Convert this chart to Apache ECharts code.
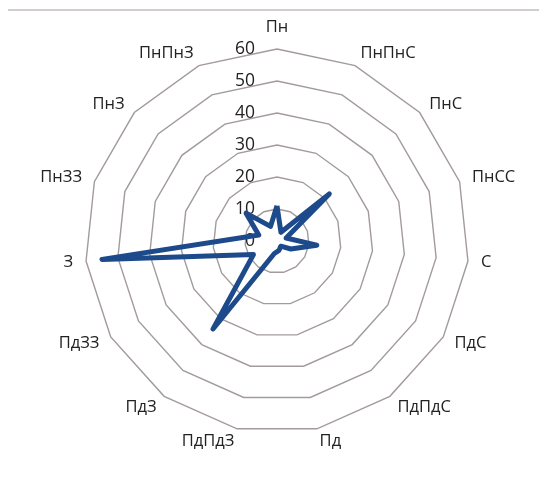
<!DOCTYPE html>
<html>
<head>
<meta charset="utf-8">
<script src="https://cdn.jsdelivr.net/npm/echarts@6/dist/echarts.min.js"></script>
<style>
html,body{margin:0;padding:0;background:#fff;}
#c{width:539px;height:501px;}
</style>
</head>
<body>
<div id="c"></div>
<script>
// Directions in clockwise order starting from the top
const categories = ['Пн','ПнПнС','ПнС','ПнСС','С','ПдС','ПдПдС','Пд','ПдПдЗ','ПдЗ','ПдЗЗ','З','ПнЗЗ','ПнЗ','ПнПнЗ'];
const values = [11, 3, 22, 3, 12.5, 5, 2, 3, 4, 34, 8.5, 55, 6, 13, 5];
const axisMax = 60;
const axisSplits = 6;

// ECharts radar runs counter-clockwise, so reverse all but the first
const order = [0].concat(categories.map((_, i) => i).slice(1).reverse());

const chart = echarts.init(document.getElementById('c'), null, {renderer: 'canvas'});
chart.setOption({
  animation: false,
  backgroundColor: '#ffffff',
  graphic: [{
    type: 'line',
    shape: {x1: 8, y1: 10, x2: 539, y2: 10},
    style: {stroke: '#d2cccb', lineWidth: 2}
  }],
  radar: {
    center: [277, 241],
    radius: 192,
    startAngle: 90,
    shape: 'polygon',
    splitNumber: axisSplits,
    nameGap: 13,
    axisName: {color: '#222222', fontSize: 16.5, fontFamily: 'Open Sans'},
    axisLine: {show: false},
    axisTick: {show: false},
    axisLabel: {show: false},
    splitArea: {show: false},
    splitLine: {lineStyle: {color: '#a29b9a', width: 1.4}},
    indicator: order.map((idx, k) => {
      const ind = {name: categories[idx], min: 0, max: axisMax};
      if (k === 0) {
        ind.axisLabel = {show: true, color: '#222222', fontSize: 17.5, fontFamily: 'Open Sans', margin: 22};
      }
      return ind;
    })
  },
  series: [{
    type: 'radar',
    symbol: 'none',
    lineStyle: {color: '#1d4a8b', width: 5, join: 'round'},
    data: [{value: order.map(idx => values[idx])}]
  }]
});
</script>
</body>
</html>
